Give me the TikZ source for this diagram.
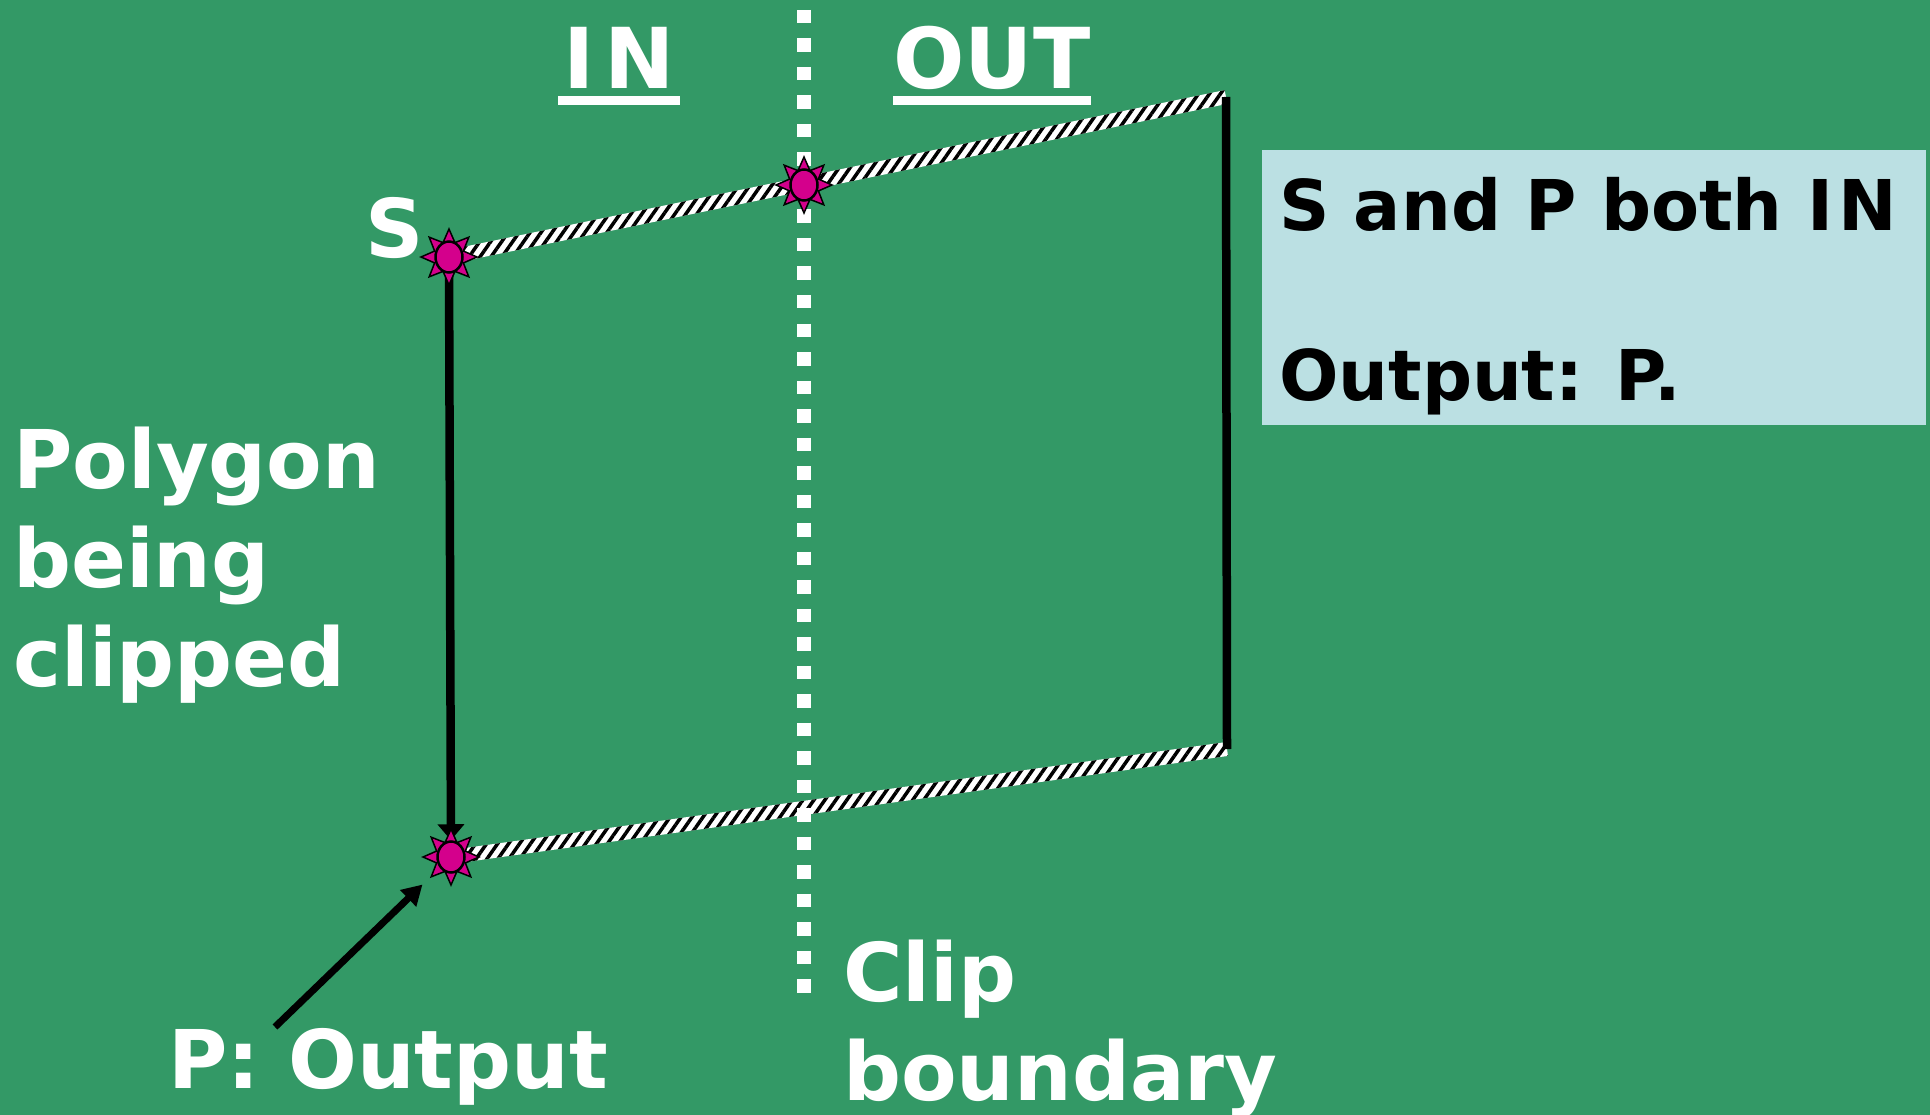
\documentclass[tikz,border=0pt]{standalone}
\usepackage{fontspec}
\setmainfont{DejaVu Sans}
\usetikzlibrary{ calc,             % For the outlines of the striped edges
                 positioning,
                 arrows.meta,
                 patterns.meta,    % For the stripes
                 shapes.geometric, % For the star markers
               }
\definecolor{bggreen}{HTML}{339966}
\definecolor{notebg}{HTML}{BBE0E3}
\definecolor{pointpink}{HTML}{D4008C}

\pgfdeclarelayer{back}
\pgfsetlayers{back,main}

\tikzstyle{point} = [star, star points=8, star point ratio=1.8, minimum size=56pt, inner sep=0pt, fill=pointpink, draw=black, line width=1.5pt]
\tikzstyle{pointcore} = [ellipse, minimum width=27pt, minimum height=31pt, inner sep=0pt, fill=pointpink, draw=black, line width=2.5pt]
\tikzstyle{whitetext} = [text=white, font=\bfseries\fontsize{81}{99}\selectfont, inner sep=0pt, align=left]
\tikzstyle{heading} = [text=white, font=\bfseries\fontsize{84}{100}\selectfont, inner ysep=0pt]
\tikzstyle{notetext} = [text=black, font=\bfseries\fontsize{70}{84}\selectfont, inner sep=0pt]
\tikzstyle{note} = [fill=notebg, minimum width=664pt, minimum height=275pt, inner sep=0pt]
\tikzstyle{edge} = [line width=8.5pt]
\tikzstyle{uline} = [white, line width=9pt]
\tikzstyle{boundary} = [white, line width=14pt, dash pattern=on 13.5pt off 15pt]

% white band with black diagonal stripes between two points
\newcommand{\stripededge}[2]{%
  \path[fill=white, postaction={pattern={Lines[angle=55, distance=9pt, line width=3.5pt]}, pattern color=black}]
    ($(#1)!7pt!90:(#2)$) -- ($(#2)!7pt!-90:(#1)$) -- ($(#2)!7pt!90:(#1)$) -- ($(#1)!7pt!-90:(#2)$) -- cycle;
}

\begin{document}
\begin{tikzpicture}[x=1pt, y=-1pt]
  \useasboundingbox (0,0) rectangle (1930,1115);

  % vertices of the polygon
  \node (S-star) [point] at (449,257) {};
  \node (S) [pointcore] at (S-star) {};
  \node (M-star) [point] at (804,185) {};
  \node (M) [pointcore] at (M-star) {};
  \node (P-star) [point] at (451,857) {};
  \node (P) [pointcore] at (P-star) {};
  \coordinate (TR) at (1226,97);
  \coordinate (BR) at (1227,749);
  \coordinate (cliptop) at (804,10);
  \coordinate (clipbot) at (804,995);
  \coordinate (ptail) at (275,1027);

  % labels
  \node (in) [heading, inner xsep=5pt, anchor=base] at (619,89) {I\kern10pt N};
  \node (out) [heading, inner xsep=0pt, anchor=base] at (992,89) {OUT};
  \node (s-lbl) [whitetext, anchor=base west] at (365,258) {S};
  \node (poly-lbl) [whitetext, anchor=north west] at (13,427) {Polygon\\being\\clipped};
  \node (clip-lbl) [whitetext, anchor=north west] at (843,940) {Clip\\boundary};
  \node (p-lbl) [whitetext, anchor=base west] at (168,1088) {P: Output};

  \node (note) [note, anchor=north west] at (1262,150) {};
  \node (note-1) [notetext, anchor=base west] at ([shift={(17,81)}]note.north west) {S and P both I\kern5pt N};
  \node (note-2) [notetext, anchor=base west] at ([shift={(17,250)}]note.north west) {Output: P.};

  \begin{pgfonlayer}{back}
    \fill[bggreen] (0,0) rectangle (1930,1115);
    \stripededge{S.center}{TR}
    \stripededge{P.center}{BR}
    \draw[boundary] (cliptop) -- (clipbot);
    \draw[edge] (TR) -- (BR);
    \draw[edge, -{Triangle[length=16pt, width=26pt]}] (S) -- (P);
    \draw[line width=7pt, -{Triangle[length=20pt, width=22pt]}, shorten >=24pt] (ptail) -- (P);
    \draw[uline] ([yshift=-11.5pt]in.base west) -- ([yshift=-11.5pt]in.base east);
    \draw[uline] ([yshift=-11.5pt]out.base west) -- ([yshift=-11.5pt]out.base east);
  \end{pgfonlayer}
\end{tikzpicture}
\end{document}
